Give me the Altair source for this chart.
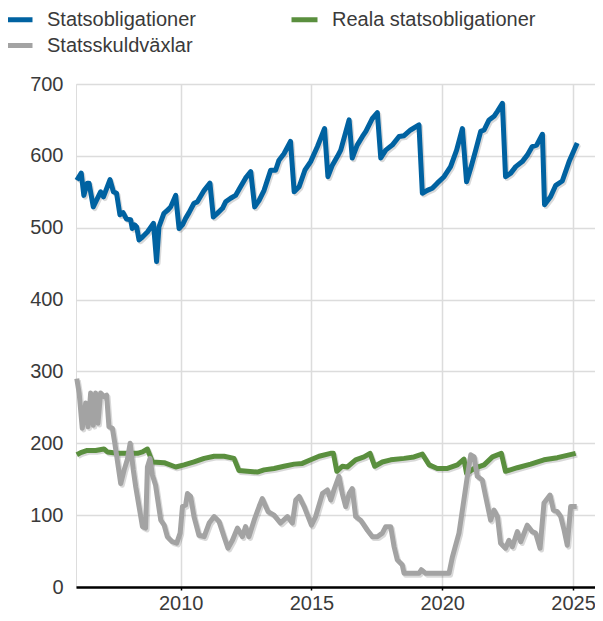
import altair as alt
import pandas as pd

series_names = ["Statsobligationer", "Statsskuldväxlar", "Reala statsobligationer"]
series_colors = ["#0062a1", "#a3a3a3", "#5a8f3e"]
draw_order = ["Statsobligationer", "Reala statsobligationer", "Statsskuldväxlar"]

blue_year = [2006.03, 2006.2, 2006.3, 2006.43, 2006.5, 2006.66, 2006.94, 2007.05, 2007.3, 2007.43,
             2007.55, 2007.68, 2007.8, 2007.93, 2008.09, 2008.15, 2008.24, 2008.32, 2008.41, 2008.54,
             2008.73, 2008.96, 2009.08, 2009.17, 2009.36, 2009.52, 2009.62, 2009.81, 2009.94, 2010.07,
             2010.19, 2010.32, 2010.51, 2010.64, 2010.9, 2011.12, 2011.25, 2011.4, 2011.6, 2011.72,
             2011.91, 2012.1, 2012.29, 2012.48, 2012.68, 2012.83, 2013.0, 2013.19, 2013.44, 2013.63,
             2013.76, 2013.95, 2014.2, 2014.34, 2014.53, 2014.75, 2014.97, 2015.23, 2015.5, 2015.63,
             2015.8, 2015.99, 2016.12, 2016.44, 2016.56, 2016.75, 2016.95, 2017.08, 2017.33, 2017.52,
             2017.65, 2017.84, 2018.09, 2018.35, 2018.54, 2018.79, 2019.11, 2019.24, 2019.43, 2019.62,
             2019.81, 2020.07, 2020.32, 2020.55, 2020.77, 2020.93, 2021.09, 2021.28, 2021.47, 2021.6,
             2021.79, 2021.98, 2022.11, 2022.3, 2022.42, 2022.62, 2022.81, 2023.06, 2023.25, 2023.44,
             2023.61, 2023.83, 2023.91, 2024.14, 2024.34, 2024.59, 2024.85, 2025.16]
blue_value = [566, 576, 545, 562, 562, 529, 550, 543, 567, 550,
              548, 518, 521, 512, 511, 499, 504, 501, 483, 487,
              494, 506, 453, 501, 520, 525, 529, 545, 499, 504,
              513, 521, 534, 536, 552, 562, 515, 520, 527, 536,
              541, 545, 557, 569, 578, 529, 538, 552, 580, 580,
              594, 603, 620, 550, 557, 580, 592, 613, 638, 571,
              587, 599, 608, 650, 597, 615, 627, 634, 652, 660,
              597, 608, 615, 627, 628, 636, 643, 548, 552, 555,
              562, 571, 585, 608, 638, 564, 583, 608, 634, 636,
              650, 655, 662, 673, 571, 576, 585, 592, 601, 613,
              615, 630, 532, 543, 559, 565, 592, 618]

green_year = [2006.03, 2006.18, 2006.43, 2006.75, 2007.07, 2007.2, 2007.58, 2008.35, 2008.54, 2008.73,
              2008.92, 2009.37, 2009.81, 2010.13, 2010.51, 2010.9, 2011.28, 2011.66, 2012.04, 2012.23,
              2012.55, 2012.93, 2013.19, 2013.57, 2013.95, 2014.34, 2014.65, 2014.97, 2015.29, 2015.73,
              2015.84, 2015.97, 2016.18, 2016.37, 2016.69, 2017.01, 2017.24, 2017.42, 2017.71, 2018.03,
              2018.54, 2018.92, 2019.24, 2019.5, 2019.81, 2020.2, 2020.58, 2020.83, 2020.93, 2021.22,
              2021.6, 2021.92, 2022.26, 2022.42, 2022.87, 2023.38, 2023.89, 2024.4, 2025.1]
green_value = [184, 187, 190, 190, 192, 188, 186, 186, 188, 192,
               174, 173, 167, 170, 174, 179, 182, 182, 179, 162,
               161, 160, 163, 165, 168, 171, 172, 177, 182, 186,
               186, 161, 168, 167, 177, 181, 186, 168, 174, 177,
               179, 181, 185, 170, 165, 165, 170, 178, 158, 165,
               170, 181, 186, 161, 166, 171, 177, 180, 186]

gray_year = [2006.03, 2006.12, 2006.24, 2006.37, 2006.46, 2006.56, 2006.66, 2006.75, 2006.84, 2006.94,
             2007.07, 2007.17, 2007.26, 2007.39, 2007.48, 2007.71, 2007.84, 2007.96, 2008.07, 2008.19,
             2008.28, 2008.41, 2008.54, 2008.66, 2008.73, 2008.83, 2008.92, 2009.04, 2009.24, 2009.37,
             2009.49, 2009.68, 2009.85, 2009.98, 2010.07, 2010.19, 2010.26, 2010.38, 2010.51, 2010.7,
             2010.9, 2011.09, 2011.28, 2011.47, 2011.66, 2011.81, 2011.98, 2012.17, 2012.36, 2012.48,
             2012.61, 2012.81, 2013.0, 2013.12, 2013.34, 2013.57, 2013.82, 2014.08, 2014.27, 2014.4,
             2014.53, 2014.72, 2015.0, 2015.16, 2015.42, 2015.61, 2015.74, 2015.86, 2016.05, 2016.18,
             2016.31, 2016.44, 2016.56, 2016.69, 2016.88, 2017.14, 2017.33, 2017.52, 2017.71, 2017.84,
             2018.03, 2018.16, 2018.28, 2018.47, 2018.54, 2019.11, 2019.2, 2019.37, 2020.26, 2020.39,
             2020.64, 2020.77, 2020.96, 2021.09, 2021.22, 2021.34, 2021.53, 2021.66, 2021.85, 2021.98,
             2022.11, 2022.23, 2022.42, 2022.55, 2022.68, 2022.87, 2023.0, 2023.25, 2023.44, 2023.57,
             2023.74, 2023.89, 2024.12, 2024.25, 2024.4, 2024.53, 2024.66, 2024.78, 2024.91, 2025.14]
gray_value = [290, 270, 221, 256, 223, 270, 225, 270, 228, 270,
              265, 267, 223, 221, 201, 144, 163, 177, 200, 163,
              140, 112, 84, 82, 167, 179, 156, 142, 93, 86,
              70, 63, 61, 75, 112, 114, 130, 126, 98, 72,
              70, 89, 98, 91, 70, 54, 65, 82, 70, 84,
              70, 93, 112, 123, 105, 100, 89, 98, 89, 121,
              126, 112, 86, 98, 130, 135, 121, 135, 154, 130,
              112, 130, 137, 98, 93, 79, 70, 70, 75, 84,
              84, 56, 38, 31, 19, 19, 24, 19, 19, 42,
              75, 107, 154, 184, 181, 154, 149, 126, 93, 107,
              98, 61, 54, 65, 56, 77, 63, 86, 77, 75,
              54, 117, 128, 107, 105, 98, 79, 58, 112, 112]

frames = []
for name, yrs, vals in [("Statsobligationer", blue_year, blue_value),
                        ("Reala statsobligationer", green_year, green_value),
                        ("Statsskuldväxlar", gray_year, gray_value)]:
    frames.append(pd.DataFrame({"year": yrs, "value": vals, "series": name}))
df = pd.concat(frames, ignore_index=True)

font = "Liberation Sans"
text_color = "#3a3a3a"

x_enc = alt.X("year:Q",
              scale=alt.Scale(domain=[2006, 2025.84], nice=False, zero=False),
              axis=alt.Axis(values=[2010, 2015, 2020, 2025], format="d", title=None,
                            grid=True, gridColor="#dcdcdc", gridWidth=1.5,
                            domainColor="#000000", domainWidth=2.5,
                            tickColor="#000000", tickSize=3, tickWidth=1.5,
                            labelFontSize=20, labelColor=text_color, labelFont=font,
                            labelPadding=3, labelFlush=False))
y_enc = alt.Y("value:Q",
              scale=alt.Scale(domain=[0, 700], nice=False),
              axis=alt.Axis(values=[0, 100, 200, 300, 400, 500, 600, 700], title=None,
                            grid=True, gridColor="#dcdcdc", gridWidth=1.5,
                            domain=False, ticks=False,
                            labelFontSize=20, labelColor=text_color, labelFont=font,
                            labelPadding=13))

base = alt.Chart(df)

shadow = base.mark_line(color="#000000", opacity=0.15, strokeWidth=5, strokeJoin="round",
                        xOffset=1.5, yOffset=1.8).encode(
    x=x_enc, y=y_enc, detail="series:N")

color_enc = alt.Color("series:N",
                      scale=alt.Scale(domain=series_names, range=series_colors),
                      legend=alt.Legend(title=None, orient="none", legendX=-72, legendY=-80,
                                        columns=2, symbolType="stroke", symbolSize=676,
                                        symbolStrokeWidth=5, labelFontSize=20, labelFont=font,
                                        labelColor=text_color, labelOffset=12, labelLimit=400,
                                        columnPadding=85, rowPadding=0))

layers = [shadow]
for name in draw_order:
    layers.append(base.transform_filter(alt.datum.series == name)
                  .mark_line(strokeWidth=5, strokeJoin="round")
                  .encode(x=x_enc, y=y_enc, color=color_enc))

chart = alt.layer(*layers).properties(
    width=519, height=503,
    autosize=alt.AutoSizeParams(type="none"),
    padding={"left": 68, "top": 76, "right": 0, "bottom": 26},
).configure_view(stroke=None).configure(font=font)

chart.save("out.html", embed_options={"renderer": "svg", "actions": False})
